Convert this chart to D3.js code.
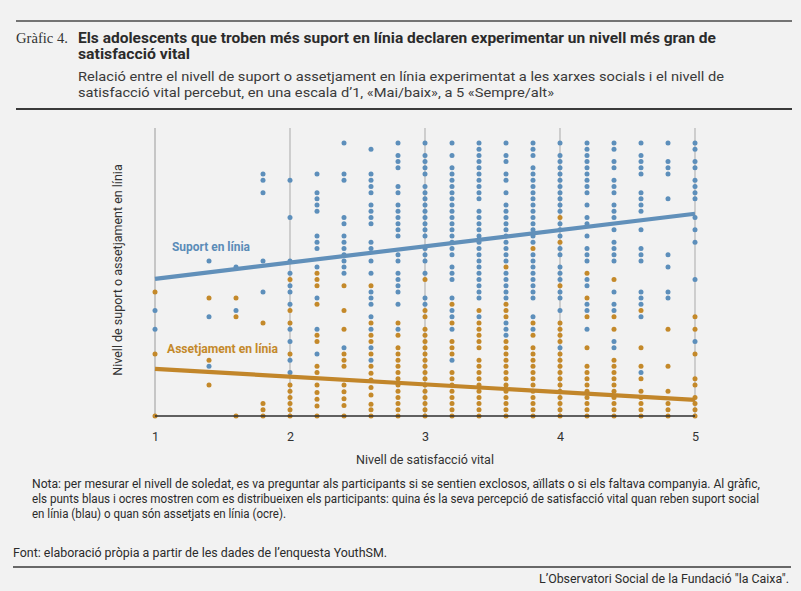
<!DOCTYPE html>
<html>
<head>
<meta charset="utf-8">
<script src="https://cdn.jsdelivr.net/npm/d3@7"></script>
<style>
  html, body { margin: 0; padding: 0; background: #f2f2f2; }
  svg { display: block; font-family: Roboto, "Noto Sans", sans-serif; }
</style>
</head>
<body>
<svg id="chart" width="801" height="591"></svg>
<script>

// satisfaction value of each column of dots
const satisfaction = [1, 1.4, 1.6, 1.8, 2, 2.2, 2.4, 2.6, 2.8, 3, 3.2, 3.4, 3.6, 3.8, 4, 4.2, 4.4, 4.6, 4.8, 5];

// vertical step (0 = bottom, 44 = top) of every dot in each column
const supportSteps = [
  [17, 14],
  [25, 16, 8],
  [24, 17],
  [39, 38, 36, 25, 20],
  [38, 32, 25, 23, 21, 20, 18, 14, 12, 9, 7],
  [39, 36, 35, 34, 33, 29, 28, 27, 24, 19, 14, 10],
  [44, 39, 38, 32, 31, 29, 28, 27, 26, 25, 24, 23, 11],
  [43, 39, 38, 37, 36, 34, 33, 32, 31, 28, 27, 25, 23, 20, 19, 18, 16, 14, 11, 9],
  [44, 42, 41, 40, 37, 36, 34, 33, 32, 31, 30, 29, 26, 25, 23, 22, 21, 20, 18, 14],
  [44, 42, 41, 40, 39, 37, 36, 35, 34, 33, 32, 31, 30, 29, 27, 26, 25, 23, 19, 18],
  [44, 42, 40, 39, 38, 37, 36, 35, 34, 33, 32, 31, 30, 29, 28, 27, 26, 24, 23, 22, 19, 17, 16, 14, 9],
  [44, 43, 42, 41, 40, 39, 38, 37, 36, 35, 33, 32, 31, 30, 29, 28, 27, 26, 25, 24, 23, 22, 21, 20, 19, 16],
  [44, 42, 41, 39, 38, 36, 34, 33, 32, 31, 30, 29, 28, 27, 26, 25, 23, 22, 21, 20, 19, 15, 14, 13],
  [44, 43, 42, 40, 39, 38, 37, 36, 35, 34, 33, 32, 31, 30, 29, 28, 26, 25, 24, 23, 22, 21, 20, 19, 16, 14],
  [44, 42, 41, 40, 39, 38, 37, 36, 35, 34, 33, 31, 30, 29, 27, 26, 24, 23, 22, 20, 19, 17, 11],
  [44, 43, 42, 41, 40, 39, 38, 37, 36, 34, 32, 31, 29, 27, 26, 25, 22, 21, 18, 17, 14],
  [44, 43, 41, 40, 38, 37, 36, 34, 33, 32, 30, 28, 27, 26, 25, 20, 18, 17, 12, 11],
  [44, 42, 41, 40, 39, 36, 35, 34, 33, 30, 27, 26, 25, 20, 19, 18, 16, 7],
  [44, 41, 40, 39, 35, 26, 24, 20, 19],
  [44, 43, 41, 40, 38, 37, 36, 35, 32, 30, 28, 22, 12]
];

const harassSteps = [
  [20, 10, 0],
  [19, 9, 5],
  [19, 16, 0],
  [15, 2, 1, 0],
  [22, 17, 15, 10, 5, 4, 3, 2, 1, 0],
  [23, 22, 21, 18, 13, 12, 8, 7, 5, 3.8, 2.7, 1.6, 0],
  [21, 17, 14, 10, 9, 8, 5, 3.9, 2.8, 1.7, 0],
  [21, 15, 13, 12, 10, 8, 6.9, 5.8, 4.6, 3.4, 1.9, 1, 0],
  [15, 13, 11, 10, 9, 8, 7, 6, 5, 4, 3, 2, 1, 0],
  [22, 17, 16, 14, 13, 12, 11, 10, 9, 8, 7, 6, 5, 4, 3, 2, 1, 0],
  [18, 15, 12, 11, 10, 7, 6, 5, 4, 3, 2, 1, 0],
  [17, 15, 14, 13, 12, 11, 9, 8, 7, 6, 5, 4, 3, 2, 1, 0],
  [24, 18, 17, 16, 12, 11, 10, 9, 8, 7, 6, 5, 4, 3, 2, 1, 0],
  [27, 15, 13, 11, 10, 9, 8, 7, 6, 5, 4, 3, 2, 1, 0],
  [32, 28, 21, 15, 14, 13, 12, 10, 9, 8, 7, 6, 5, 4, 3, 2, 1, 0],
  [23, 19, 16, 11, 8, 7, 6, 5, 4, 3, 2, 1, 0],
  [22, 16, 14, 9, 8, 7, 6, 5, 4, 3, 2, 1, 0],
  [17, 11, 8, 6, 4, 3, 2, 1, 0],
  [14, 8, 4, 2, 1, 0],
  [16, 14, 10, 6, 5, 3, 2, 1, 0]
];

// trend lines, value at satisfaction 1 and 5
const trendX = [1, 5];
const supportTrend = [22.1, 32.6];
const harassTrend = [7.6, 2.6];

const xTicks = [1, 2, 3, 4, 5];

const BLUE = '#5d8fbb';
const OCHRE = '#c4892a';

const svg = d3.select('#chart');

// header
svg.append('line')
  .attr('x1', 16).attr('x2', 792).attr('y1', 21).attr('y2', 21)
  .attr('stroke', '#4a4a4a').attr('stroke-width', 1.3);

svg.append('text')
  .attr('x', 16).attr('y', 43)
  .attr('font-family', '"Liberation Serif", "DejaVu Serif", serif')
  .attr('font-size', 15.5).attr('fill', '#333')
  .attr('textLength', 52).attr('lengthAdjust', 'spacingAndGlyphs')
  .text('Gràfic 4.');

const titleLines = [
  ['Els adolescents que troben més suport en línia declaren experimentar un nivell més gran de', 43, 638],
  ['satisfacció vital', 59, 112]
];
svg.selectAll('text.title')
  .data(titleLines)
  .enter()
  .append('text')
  .attr('class', 'title')
  .attr('x', 78).attr('y', function(d) { return d[1]; })
  .attr('font-size', 14.5).attr('font-weight', 700).attr('fill', '#2b2b2b')
  .attr('textLength', function(d) { return d[2]; })
  .attr('lengthAdjust', 'spacingAndGlyphs')
  .text(function(d) { return d[0]; });

const subLines = [
  ['Relació entre el nivell de suport o assetjament en línia experimentat a les xarxes socials i el nivell de', 81, 646],
  ['satisfacció vital percebut, en una escala d’1, «Mai/baix», a 5 «Sempre/alt»', 97, 476]
];
svg.selectAll('text.sub')
  .data(subLines)
  .enter()
  .append('text')
  .attr('class', 'sub')
  .attr('x', 78).attr('y', function(d) { return d[1]; })
  .attr('font-size', 13.5).attr('fill', '#3a3a3a')
  .attr('textLength', function(d) { return d[2]; })
  .attr('lengthAdjust', 'spacingAndGlyphs')
  .text(function(d) { return d[0]; });

svg.append('line')
  .attr('x1', 16).attr('x2', 792).attr('y1', 109).attr('y2', 109)
  .attr('stroke', '#3a3a3a').attr('stroke-width', 2.2);

// plot
const x = d3.scaleLinear().domain([1, 5]).range([155, 695]);
const y = d3.scaleLinear().domain([0, 44]).range([416, 143]);

svg.append('g')
  .selectAll('line')
  .data(xTicks)
  .enter()
  .append('line')
  .attr('x1', x).attr('x2', x)
  .attr('y1', 128).attr('y2', 416)
  .attr('stroke', function(d) { return d === 1 ? '#c6c6c6' : '#b0b0b0'; })
  .attr('stroke-width', function(d) { return d === 1 ? 2 : 1.1; });

const axis = svg.append('g')
  .attr('transform', 'translate(0,416)')
  .call(d3.axisBottom(x).tickValues(xTicks).tickFormat(d3.format('d')).tickSize(0).tickPadding(16));
axis.select('.domain').remove();
axis.selectAll('text')
  .attr('font-family', 'Roboto, sans-serif')
  .attr('font-size', 12.5).attr('fill', '#333');

function flatten(steps) {
  const out = [];
  steps.forEach(function(col, i) {
    col.forEach(function(v) {
      out.push({ x: satisfaction[i], y: v });
    });
  });
  return out;
}

svg.append('g')
  .selectAll('circle')
  .data(flatten(harassSteps))
  .enter()
  .append('circle')
  .attr('cx', function(d) { return x(d.x); })
  .attr('cy', function(d) { return y(d.y); })
  .attr('r', 2.5)
  .attr('fill', OCHRE);

svg.append('g')
  .selectAll('circle')
  .data(flatten(supportSteps))
  .enter()
  .append('circle')
  .attr('cx', function(d) { return x(d.x); })
  .attr('cy', function(d) { return y(d.y); })
  .attr('r', 2.5)
  .attr('fill', BLUE);

svg.append('line')
  .attr('x1', 155).attr('x2', 695).attr('y1', 416).attr('y2', 416)
  .attr('stroke', '#2f2f2f').attr('stroke-width', 1.4);

const trendLine = d3.line()
  .x(function(d) { return x(d[0]); })
  .y(function(d) { return y(d[1]); });

svg.append('path')
  .datum(d3.zip(trendX, supportTrend))
  .attr('d', trendLine)
  .attr('fill', 'none').attr('stroke', '#6190ba').attr('stroke-width', 4.2);

svg.append('path')
  .datum(d3.zip(trendX, harassTrend))
  .attr('d', trendLine)
  .attr('fill', 'none').attr('stroke', '#c2862a').attr('stroke-width', 4.2);

svg.append('text')
  .attr('x', 172).attr('y', 251)
  .attr('font-size', 12.5).attr('font-weight', 700).attr('fill', '#5b8cb8')
  .attr('textLength', 78).attr('lengthAdjust', 'spacingAndGlyphs')
  .text('Suport en línia');

svg.append('text')
  .attr('x', 167).attr('y', 353)
  .attr('font-size', 12.5).attr('font-weight', 700).attr('fill', '#c4892a')
  .attr('textLength', 111).attr('lengthAdjust', 'spacingAndGlyphs')
  .text('Assetjament en línia');

// axis titles
svg.append('text')
  .attr('x', 425).attr('y', 464)
  .attr('text-anchor', 'middle')
  .attr('font-size', 12.5).attr('fill', '#333')
  .text('Nivell de satisfacció vital');

svg.append('text')
  .attr('transform', 'translate(122,270) rotate(-90)')
  .attr('text-anchor', 'middle')
  .attr('font-size', 12.5).attr('fill', '#333')
  .text('Nivell de suport o assetjament en línia');

// notes
const noteLines = [
  ['Nota: per mesurar el nivell de soledat, es va preguntar als participants si se sentien exclosos, aïllats o si els faltava companyia. Al gràfic,', 488, 728],
  ['els punts blaus i ocres mostren com es distribueixen els participants: quina és la seva percepció de satisfacció vital quan reben suport social', 503, 727],
  ['en línia (blau) o quan són assetjats en línia (ocre).', 518, 254]
];
svg.selectAll('text.note')
  .data(noteLines)
  .enter()
  .append('text')
  .attr('class', 'note')
  .attr('x', 32).attr('y', function(d) { return d[1]; })
  .attr('font-size', 12).attr('fill', '#2b2b2b')
  .attr('textLength', function(d) { return d[2]; })
  .attr('lengthAdjust', 'spacingAndGlyphs')
  .text(function(d) { return d[0]; });

svg.append('text')
  .attr('x', 13).attr('y', 557)
  .attr('font-size', 12.5).attr('fill', '#2b2b2b')
  .attr('textLength', 374).attr('lengthAdjust', 'spacingAndGlyphs')
  .text('Font: elaboració pròpia a partir de les dades de l’enquesta YouthSM.');

svg.append('line')
  .attr('x1', 13).attr('x2', 791).attr('y1', 567).attr('y2', 567)
  .attr('stroke', '#3a3a3a').attr('stroke-width', 1.4);

svg.append('text')
  .attr('x', 789).attr('y', 583)
  .attr('text-anchor', 'end')
  .attr('font-size', 12).attr('fill', '#2b2b2b')
  .attr('textLength', 250).attr('lengthAdjust', 'spacingAndGlyphs')
  .text('L’Observatori Social de la Fundació "la Caixa".');

</script>
</body>
</html>
